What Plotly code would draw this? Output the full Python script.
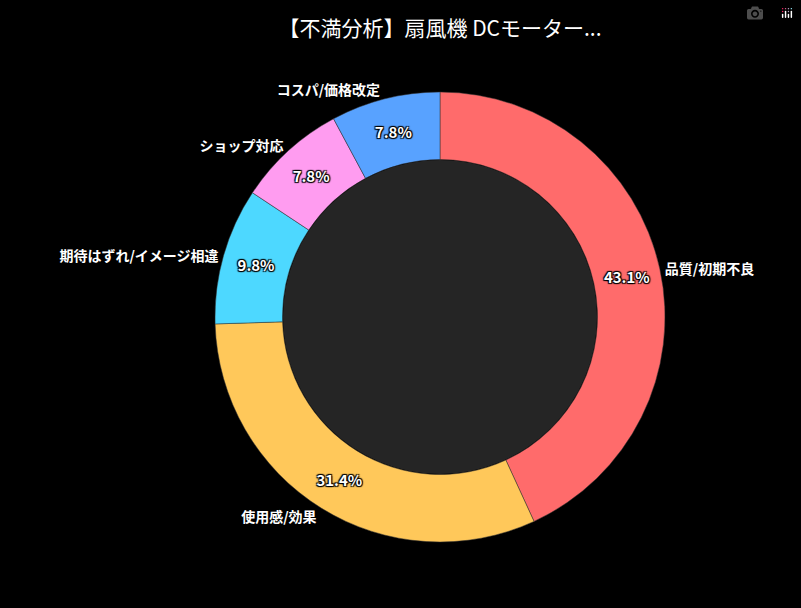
import plotly.graph_objects as go

labels = ["品質/初期不良", "使用感/効果", "期待はずれ/イメージ相違", "ショップ対応", "コスパ/価格改定"]
counts = [22, 16, 5, 4, 4]
colors = ["#FF6B6B", "#FFC85A", "#4DD8FF", "#FF9CF0", "#58A2FF"]

dom = dict(x=[215 / 801, 665 / 801], y=[66 / 608, 516 / 608])
font = "Noto Sans CJK JP"

fig = go.Figure()
# 割合（内側）
fig.add_trace(go.Pie(
    labels=labels, values=counts, hole=0.7, sort=False, direction="clockwise",
    marker=dict(colors=colors, line=dict(color="#333333", width=0.5)),
    textinfo="percent", textposition="inside", insidetextorientation="horizontal",
    texttemplate="%{percent:.1%}",
    textfont=dict(color="white", size=15, family=font, weight="bold",
                  shadow="1px 1px 1px black, -1px -1px 1px black, 1px -1px 1px black, -1px 1px 1px black"),
    domain=dom, showlegend=False,
))
# ラベル（外側）
fig.add_trace(go.Pie(
    labels=labels, values=counts, hole=0.7, sort=False, direction="clockwise",
    marker=dict(colors=["rgba(0,0,0,0)"] * 5, line=dict(width=0)),
    textinfo="label", textposition="outside",
    textfont=dict(color="white", size=14, family=font, weight="bold"),
    outsidetextfont=dict(color="white", size=14, family=font, weight="bold"),
    domain=dom, showlegend=False, hoverinfo="skip",
))

fig.update_layout(
    width=801, height=608,
    paper_bgcolor="black", plot_bgcolor="black",
    margin=dict(l=0, r=0, t=0, b=0),
    title=dict(text="【不満分析】扇風機 DCモーター...", x=440 / 801, xanchor="center", y=0.965,
               font=dict(color="white", size=21, family=font)),
    shapes=[dict(type="circle", xref="paper", yref="paper",
                 x0=(440 - 157) / 801, x1=(440 + 157) / 801,
                 y0=(291 - 157) / 608, y1=(291 + 157) / 608,
                 fillcolor="#252525", line=dict(width=0), layer="below")],
)

fig.write_html("out.html", post_script=(
    "document.body.style.margin='0';document.body.style.background='black';"
    "document.documentElement.style.background='black';"))
